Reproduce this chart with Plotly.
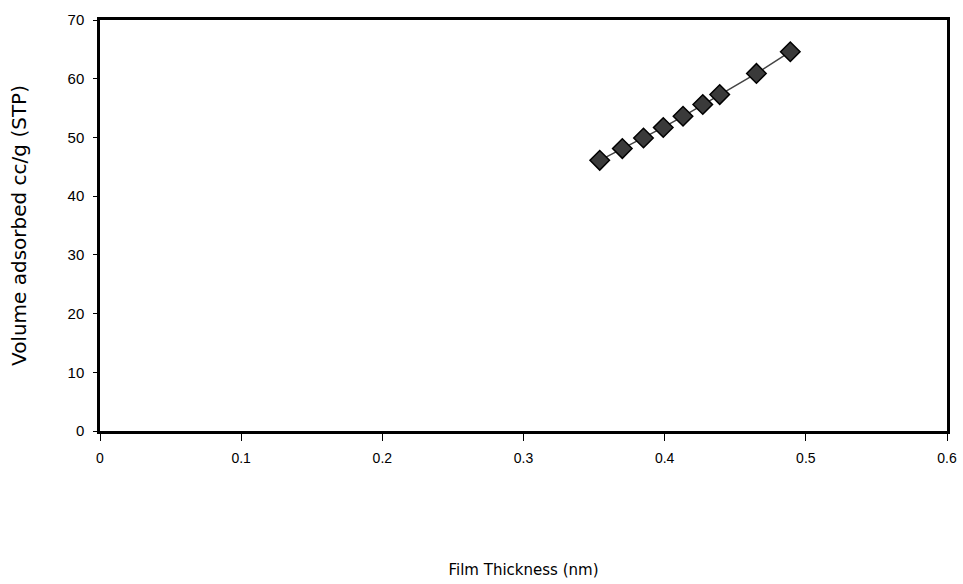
import plotly.graph_objects as go

film_thickness = [0.354, 0.370, 0.385, 0.399, 0.413, 0.427, 0.439, 0.465, 0.489]
volume_adsorbed = [46.1, 48.1, 49.9, 51.7, 53.6, 55.6, 57.3, 60.9, 64.6]

x_ticks = [0, 0.1, 0.2, 0.3, 0.4, 0.5, 0.6]
x_tick_text = ["0", "0.1", "0.2", "0.3", "0.4", "0.5", "0.6"]
y_ticks = [0, 10, 20, 30, 40, 50, 60, 70]

fig = go.Figure()
fig.add_trace(go.Scatter(
    x=film_thickness, y=volume_adsorbed, mode="lines+markers",
    line=dict(color="#444444", width=1.5),
    marker=dict(symbol="diamond", size=15, color="#3a3a3a",
                line=dict(color="black", width=1.5)),
    showlegend=False,
))

font = "Liberation Sans, Arial, sans-serif"
title_font = "DejaVu Sans, Liberation Sans, sans-serif"
fig.update_layout(
    width=963, height=584,
    margin=dict(l=100, r=16, t=20, b=153),
    paper_bgcolor="white", plot_bgcolor="white",
    font=dict(family=font, color="black", size=14),
    xaxis=dict(
        range=[0, 0.6], tickvals=x_ticks, ticktext=x_tick_text,
        showgrid=False, zeroline=False,
        showline=True, linecolor="black", linewidth=2.5, mirror=True,
        ticks="outside", ticklen=7, tickcolor="black", tickwidth=1,
        ticklabelstandoff=5,
        tickfont=dict(size=14),
        title=dict(text="Film Thickness (nm)", font=dict(family=title_font, size=15), standoff=100),
        automargin=False,
    ),
    yaxis=dict(
        range=[0, 70], tickvals=y_ticks,
        showgrid=False, zeroline=False,
        showline=True, linecolor="black", linewidth=2.5, mirror=True,
        ticks="outside", ticklen=4, tickcolor="black", tickwidth=1,
        ticklabelstandoff=6,
        tickfont=dict(size=15),
        title=dict(text="Volume adsorbed cc/g (STP)", font=dict(family=title_font, size=20), standoff=36),
        automargin=False,
    ),
)

fig.write_html("out.html")
